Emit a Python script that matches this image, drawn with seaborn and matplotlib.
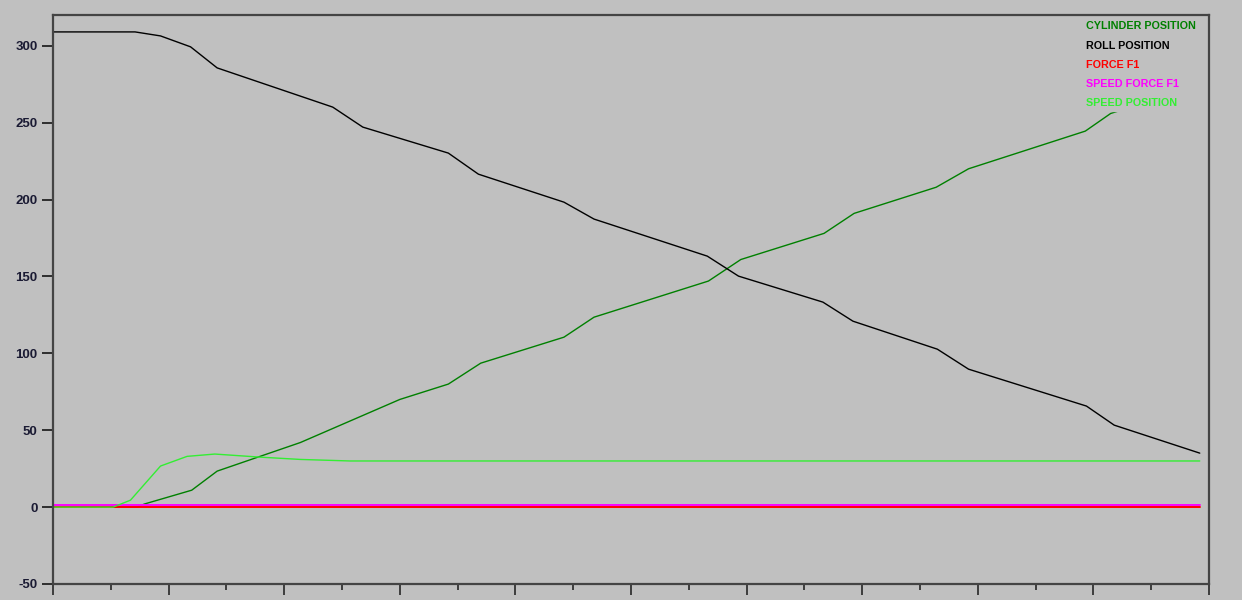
import numpy as np
import pandas as pd
import matplotlib
matplotlib.use("Agg")
import matplotlib.pyplot as plt
import seaborn as sns
from matplotlib.ticker import MultipleLocator

# time axis in "major tick" units
roll_x = [0.0, 0.71, 0.93, 1.19, 1.42, 2.42, 2.68, 3.42, 3.68, 4.42, 4.68,
          5.66, 5.93, 6.66, 6.92, 7.65, 7.92, 8.94, 9.18, 9.92]
roll_y = [309, 309, 306.4, 299.3, 285.6, 260.1, 247.1, 230.2, 216.5, 198.3, 187.3,
          163.2, 150.2, 133.3, 120.9, 102.7, 89.7, 65.7, 53.3, 35.1]

cyl_x = [0.0, 0.73, 0.79, 1.20, 1.42, 2.14, 3.00, 3.42, 3.70, 4.42, 4.68,
         5.67, 5.95, 6.67, 6.93, 7.64, 7.92, 8.93, 9.15, 9.92]
cyl_y = [0, 0, 2, 11, 23.4, 42, 70, 80, 93.6, 110.5, 123.5,
         147, 161, 178, 191, 208, 220, 244.5, 256, 274]

speed_pos_x = [0.0, 0.52, 0.67, 0.93, 1.16, 1.40, 1.79, 2.14, 2.57, 9.92]
speed_pos_y = [0, 0, 4.5, 26.7, 33, 34.5, 32.5, 31, 30, 30]

force_x = [0.0, 9.92]
force_y = [0, 0]

speed_force_x = [0.0, 9.92]
speed_force_y = [1.3, 1.3]

labels = ["CYLINDER POSITION", "ROLL POSITION", "FORCE F1", "SPEED FORCE F1", "SPEED POSITION"]
colors = ["#008000", "#000000", "#FF0000", "#FF00FF", "#33EE33"]

sns.set_theme(style="white")
plt.rcParams["font.family"] = ["Liberation Sans", "DejaVu Sans"]
plt.rcParams["axes.unicode_minus"] = False

bg = "#C0C0C0"
fig = plt.figure(figsize=(12.42, 6), dpi=100, facecolor=bg)
ax = fig.add_axes([53 / 1242, 1 - 584 / 600, (1209 - 53) / 1242, (584 - 15) / 600])
ax.set_facecolor(bg)

series = [
    (cyl_x, cyl_y, 1.0),
    (roll_x, roll_y, 1.0),
    (force_x, force_y, 1.4),
    (speed_force_x, speed_force_y, 1.4),
    (speed_pos_x, speed_pos_y, 1.0),
]
for (xs, ys, lw), lab, col in zip(series, labels, colors):
    sns.lineplot(x=xs, y=ys, ax=ax, color=col, linewidth=lw, label=lab,
                 sort=False, estimator=None)

ax.set_xlim(0, 10)
ax.set_ylim(-50, 320)
ax.xaxis.set_major_locator(MultipleLocator(1))
ax.xaxis.set_minor_locator(MultipleLocator(0.5))
ax.yaxis.set_major_locator(MultipleLocator(50))
ax.set_xticklabels([])
ax.tick_params(axis="x", which="major", direction="out", length=8, width=1.3,
               color="#333333", bottom=True)
ax.tick_params(axis="x", which="minor", direction="out", length=4, width=1.3,
               color="#333333", bottom=True)
ax.tick_params(axis="y", which="major", direction="out", length=8, width=1.3,
               color="#222222", left=True, labelsize=9.5, labelcolor="#1a1a33", pad=3)
for lab in ax.get_yticklabels():
    lab.set_fontweight("bold")

for side in ["left", "bottom", "right", "top"]:
    ax.spines[side].set_visible(True)
    ax.spines[side].set_color("#444444")
    ax.spines[side].set_linewidth(1.6)

leg = ax.legend(loc="upper left", bbox_to_anchor=((1080 - 53) / 1156, 1.0),
                borderaxespad=0.3, borderpad=0.3, handlelength=0, handletextpad=0,
                labelspacing=0.85, frameon=True, facecolor=bg, edgecolor=bg,
                framealpha=1, prop={"weight": "bold", "size": 7.75})
for txt, col in zip(leg.get_texts(), colors):
    txt.set_color(col)
for h in leg.legend_handles:
    h.set_visible(False)

ax.set_xlabel("")
ax.set_ylabel("")
fig.savefig("out.png", dpi=100, facecolor=bg)
